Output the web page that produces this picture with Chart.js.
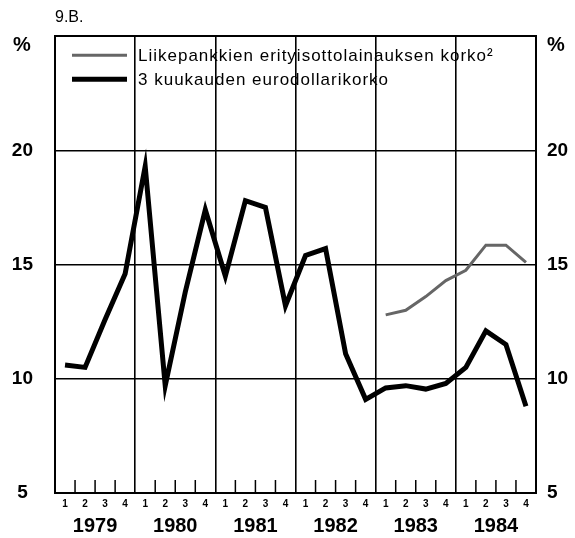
<!DOCTYPE html>
<html>
<head>
<meta charset="utf-8">
<script src="https://cdn.jsdelivr.net/npm/chart.js@4.4.1/dist/chart.umd.min.js"></script>
<style>
  html, body { margin: 0; padding: 0; background: #fff; }
  #wrap { width: 575px; height: 538px; }
</style>
</head>
<body>
<div id="wrap"><canvas id="chart"></canvas></div>
<script>
const quarters = ['1','2','3','4','1','2','3','4','1','2','3','4','1','2','3','4','1','2','3','4','1','2','3','4'];
const years = ['1979', '1980', '1981', '1982', '1983', '1984'];
const yTicks = [5, 10, 15, 20, 25];

// Liikepankkien erityisottolainauksen korko (alkaa 1983)
const bankRate = [null, null, null, null, null, null, null, null,
                  null, null, null, null, null, null, null, null,
                  12.8, 13.0, 13.6, 14.3, 14.75, 15.85, 15.85, 15.1];
// 3 kuukauden eurodollarikorko
const euroRate = [10.6, 10.5, 12.6, 14.6, 19.3, 9.7, 13.8, 17.4,
                  14.5, 17.8, 17.5, 13.2, 15.4, 15.7, 11.1, 9.1,
                  9.6, 9.7, 9.55, 9.8, 10.5, 12.1, 11.5, 8.8];

const FONT = '"Liberation Sans", Arial, Helvetica, sans-serif';

// quarter tick marks, "%" labels and the legend inside the plot
const extras = {
    id: 'extras',
    afterDatasetsDraw(chart) {
        const ctx = chart.ctx;
        const area = chart.chartArea;
        const x = chart.scales.x;
        ctx.save();
        ctx.strokeStyle = '#000';
        ctx.lineWidth = 1.5;
        for (let i = 1; i < quarters.length; i++) {
            if (i % 4 === 0) continue;
            const px = (x.getPixelForValue(i - 1) + x.getPixelForValue(i)) / 2;
            ctx.beginPath();
            ctx.moveTo(px, area.bottom);
            ctx.lineTo(px, area.bottom - 13);
            ctx.stroke();
        }

        ctx.fillStyle = '#000';
        ctx.font = 'bold 20px ' + FONT;
        ctx.textBaseline = 'middle';
        ctx.textAlign = 'center';
        ctx.fillText('%', chart.scales.y.right - 33, area.top + 9);
        ctx.textAlign = 'left';
        ctx.fillText('%', chart.scales.y2.left + 11, area.top + 9);

        ctx.font = '17px ' + FONT;
        ctx.letterSpacing = '1px';
        chart.data.datasets.forEach((ds, i) => {
            const ly = area.top + 19 + i * 24;
            ctx.strokeStyle = ds.borderColor;
            ctx.lineWidth = i === 0 ? 3 : 5;
            ctx.beginPath();
            ctx.moveTo(area.left + 17, ly);
            ctx.lineTo(area.left + 72, ly);
            ctx.stroke();
            ctx.fillText(ds.label, area.left + 83, ly + 1);
        });
        ctx.restore();
    }
};

const yAxisBase = {
    min: 5,
    max: 25,
    afterBuildTicks: axis => { axis.ticks = yTicks.map(v => ({ value: v })); },
    border: { display: true, color: '#000', width: 2 },
    ticks: {
        color: '#000',
        font: { family: FONT, size: 19, weight: 'bold' },
        callback: v => (v === 25 ? '' : String(v))
    }
};

new Chart(document.getElementById('chart'), {
    type: 'line',
    data: {
        labels: quarters,
        datasets: [{
            label: 'Liikepankkien erityisottolainauksen korko²',
            data: bankRate,
            borderColor: '#666',
            borderWidth: 3,
            pointRadius: 0,
            tension: 0,
            spanGaps: false
        }, {
            label: '3 kuukauden eurodollarikorko',
            data: euroRate,
            borderColor: '#000',
            borderWidth: 5,
            borderJoinStyle: 'miter',
            pointRadius: 0,
            tension: 0
        }]
    },
    options: {
        responsive: true,
        maintainAspectRatio: false,
        animation: false,
        layout: { padding: { left: 12, right: 7, top: 8, bottom: 0 } },
        plugins: {
            legend: { display: false },
            tooltip: { enabled: false },
            title: {
                display: true,
                text: '9.B.',
                align: 'start',
                fullSize: false,
                color: '#000',
                font: { family: FONT, size: 16, weight: 'normal' },
                padding: { top: 0, bottom: 9 }
            }
        },
        scales: {
            x: {
                type: 'category',
                offset: true,
                afterFit: axis => { axis.height = 17; },
                border: { display: true, color: '#000', width: 2 },
                grid: {
                    offset: true,
                    drawTicks: false,
                    color: c => (c.index % 4 === 0 ? '#000' : 'rgba(0,0,0,0)'),
                    lineWidth: 1.6
                },
                ticks: {
                    color: '#000',
                    font: { family: FONT, size: 10, weight: 'bold' },
                    padding: 5,
                    autoSkip: false,
                    maxRotation: 0
                }
            },
            x2: {
                type: 'category',
                labels: years,
                position: 'bottom',
                offset: true,
                afterFit: axis => { axis.height = 28; },
                border: { display: false },
                grid: { display: false, drawTicks: false },
                ticks: {
                    color: '#000',
                    font: { family: FONT, size: 20, weight: 'bold' },
                    padding: 4,
                    autoSkip: false,
                    maxRotation: 0
                }
            },
            y: Object.assign({}, yAxisBase, {
                position: 'left',
                afterFit: axis => { axis.width = 43; },
                grid: {
                    color: '#000',
                    lineWidth: c => (c.tick && c.tick.value === 25 ? 2 : 1.5),
                    drawTicks: false
                },
                ticks: Object.assign({}, yAxisBase.ticks, { padding: 22, crossAlign: 'center' })
            }),
            y2: Object.assign({}, yAxisBase, {
                position: 'right',
                afterFit: axis => { axis.width = 32; },
                grid: { display: false, drawTicks: false },
                ticks: Object.assign({}, yAxisBase.ticks, { padding: 11 })
            })
        }
    },
    plugins: [extras]
});
</script>
</body>
</html>
